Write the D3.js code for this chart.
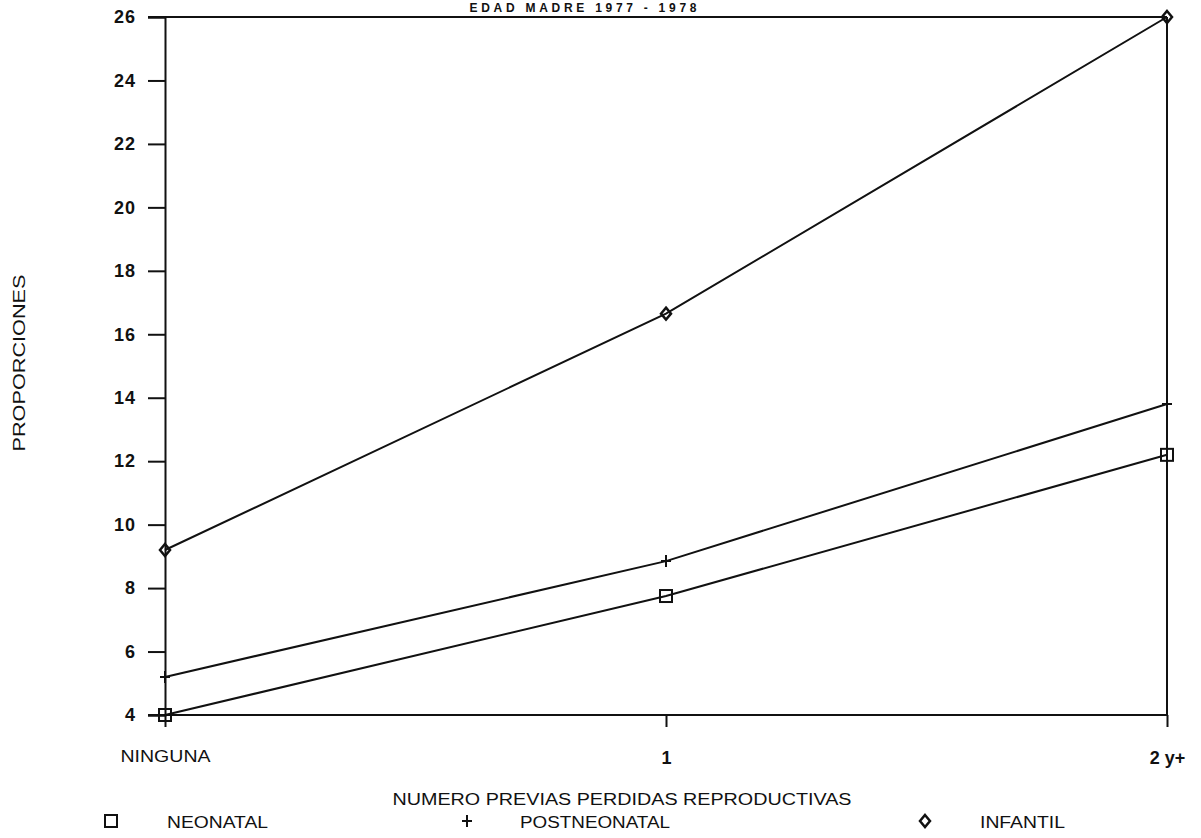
<!DOCTYPE html>
<html>
<head>
<meta charset="utf-8">
<script src="https://cdn.jsdelivr.net/npm/d3@7"></script>
<style>
  body { margin: 0; background: #fff; }
  svg { display: block; }
  text { font-family: "Liberation Sans", Arial, sans-serif; fill: #111; }
</style>
</head>
<body>
<svg id="chart" width="1201" height="838"></svg>
<script>
// datos
var categorias = ["NINGUNA", "1", "2 y+"];
var neonatal = [4.0, 7.75, 12.2];
var postneonatal = [5.2, 8.85, 13.8];
var infantil = [9.2, 16.65, 26.0];
var yTicks = [4, 6, 8, 10, 12, 14, 16, 18, 20, 22, 24, 26];
var nombresSerie = ["NEONATAL", "POSTNEONATAL", "INFANTIL"];

var svg = d3.select("#chart");
var margin = {left: 165, right: 34, top: 17, bottom: 123};
var width = 1201 - margin.left - margin.right;
var height = 838 - margin.top - margin.bottom;

var x = d3.scalePoint().domain(categorias).range([0, width]);
var y = d3.scaleLinear().domain([4, 26]).range([height, 0]);

var g = svg.append("g").attr("transform", "translate(" + margin.left + "," + margin.top + ")");

// titulo (arriba del marco)
svg.append("text")
    .attr("x", 583).attr("y", 12)
    .attr("text-anchor", "middle")
    .attr("textLength", 227)
    .style("font-size", "12px").style("font-weight", "bold")
    .text("EDAD  MADRE  1977 - 1978");

// marco
g.append("line").attr("x1", -17).attr("x2", width).attr("y1", y(26)).attr("y2", y(26))
    .attr("stroke", "#111").attr("stroke-width", 2);
g.append("line").attr("x1", -17).attr("x2", width).attr("y1", y(4)).attr("y2", y(4))
    .attr("stroke", "#111").attr("stroke-width", 2);
g.append("line").attr("x1", width).attr("x2", width).attr("y1", y(26)).attr("y2", y(4))
    .attr("stroke", "#111").attr("stroke-width", 2);

// eje y
var yAxis = g.append("g")
    .call(d3.axisLeft(y).tickValues(yTicks).tickSize(17).tickPadding(12));
yAxis.select(".domain").attr("stroke", "#111").attr("stroke-width", 2);
yAxis.selectAll(".tick line").attr("stroke", "#111").attr("stroke-width", 2);
yAxis.selectAll(".tick text")
    .style("font-size", "18px").style("font-weight", "bold")
    .style("letter-spacing", "1px").attr("fill", "#111");

// eje x
var xAxis = g.append("g")
    .attr("transform", "translate(0," + height + ")")
    .call(d3.axisBottom(x).tickSize(12).tickPadding(24));
xAxis.select(".domain").remove();
xAxis.selectAll(".tick line").attr("stroke", "#111").attr("stroke-width", 2);
xAxis.selectAll(".tick text").attr("fill", "#111")
    .style("font-size", function(d) { return d == "NINGUNA" ? "16px" : "18px"; })
    .style("font-weight", function(d) { return d == "NINGUNA" ? "normal" : "bold"; })
    .attr("textLength", function(d) { return d == "NINGUNA" ? 90 : null; })
    .attr("lengthAdjust", "spacingAndGlyphs");

// titulos de ejes
svg.append("text")
    .attr("transform", "translate(25,363) rotate(-90)")
    .attr("text-anchor", "middle")
    .attr("textLength", 177)
    .attr("lengthAdjust", "spacingAndGlyphs")
    .style("font-size", "16px")
    .text("PROPORCIONES");

svg.append("text")
    .attr("x", 622).attr("y", 805)
    .attr("text-anchor", "middle")
    .attr("textLength", 459)
    .attr("lengthAdjust", "spacingAndGlyphs")
    .style("font-size", "16px")
    .text("NUMERO PREVIAS PERDIDAS REPRODUCTIVAS");

// lineas
var linea = d3.line()
    .x(function(d, i) { return x(categorias[i]); })
    .y(function(d) { return y(d); });

var series = [neonatal, postneonatal, infantil];
series.forEach(function(s) {
    g.append("path").datum(s)
        .attr("d", linea)
        .attr("fill", "none")
        .attr("stroke", "#111")
        .attr("stroke-width", 2);
});

// marcadores
function marcador(sel, tipo) {
    if (tipo == 0) {
        sel.append("rect").attr("x", -6).attr("y", -6).attr("width", 12).attr("height", 12)
            .attr("fill", "none").attr("stroke", "#111").attr("stroke-width", 2);
    } else if (tipo == 1) {
        sel.append("path").attr("d", "M-5,0H5M0,-6V6")
            .attr("fill", "none").attr("stroke", "#111").attr("stroke-width", 2);
    } else {
        sel.append("path").attr("d", "M0,-6L5,0L0,6L-5,0Z")
            .attr("fill", "none").attr("stroke", "#111").attr("stroke-width", 2.5);
    }
}

series.forEach(function(s, k) {
    g.selectAll(".m" + k)
        .data(s)
        .enter().append("g")
        .attr("class", "m" + k)
        .attr("transform", function(d, i) { return "translate(" + x(categorias[i]) + "," + y(d) + ")"; })
        .each(function() { marcador(d3.select(this), k); });
});

// leyenda
var legX = [111, 467, 925];
var legTextX = [167, 520, 980];
var legLen = [101, 150, 85];
nombresSerie.forEach(function(n, k) {
    var lg = svg.append("g").attr("transform", "translate(" + legX[k] + ",821)");
    marcador(lg, k);
    svg.append("text")
        .attr("x", legTextX[k]).attr("y", 828)
        .attr("textLength", legLen[k])
        .attr("lengthAdjust", "spacingAndGlyphs")
        .style("font-size", "16px")
        .text(n);
});
</script>
</body>
</html>
